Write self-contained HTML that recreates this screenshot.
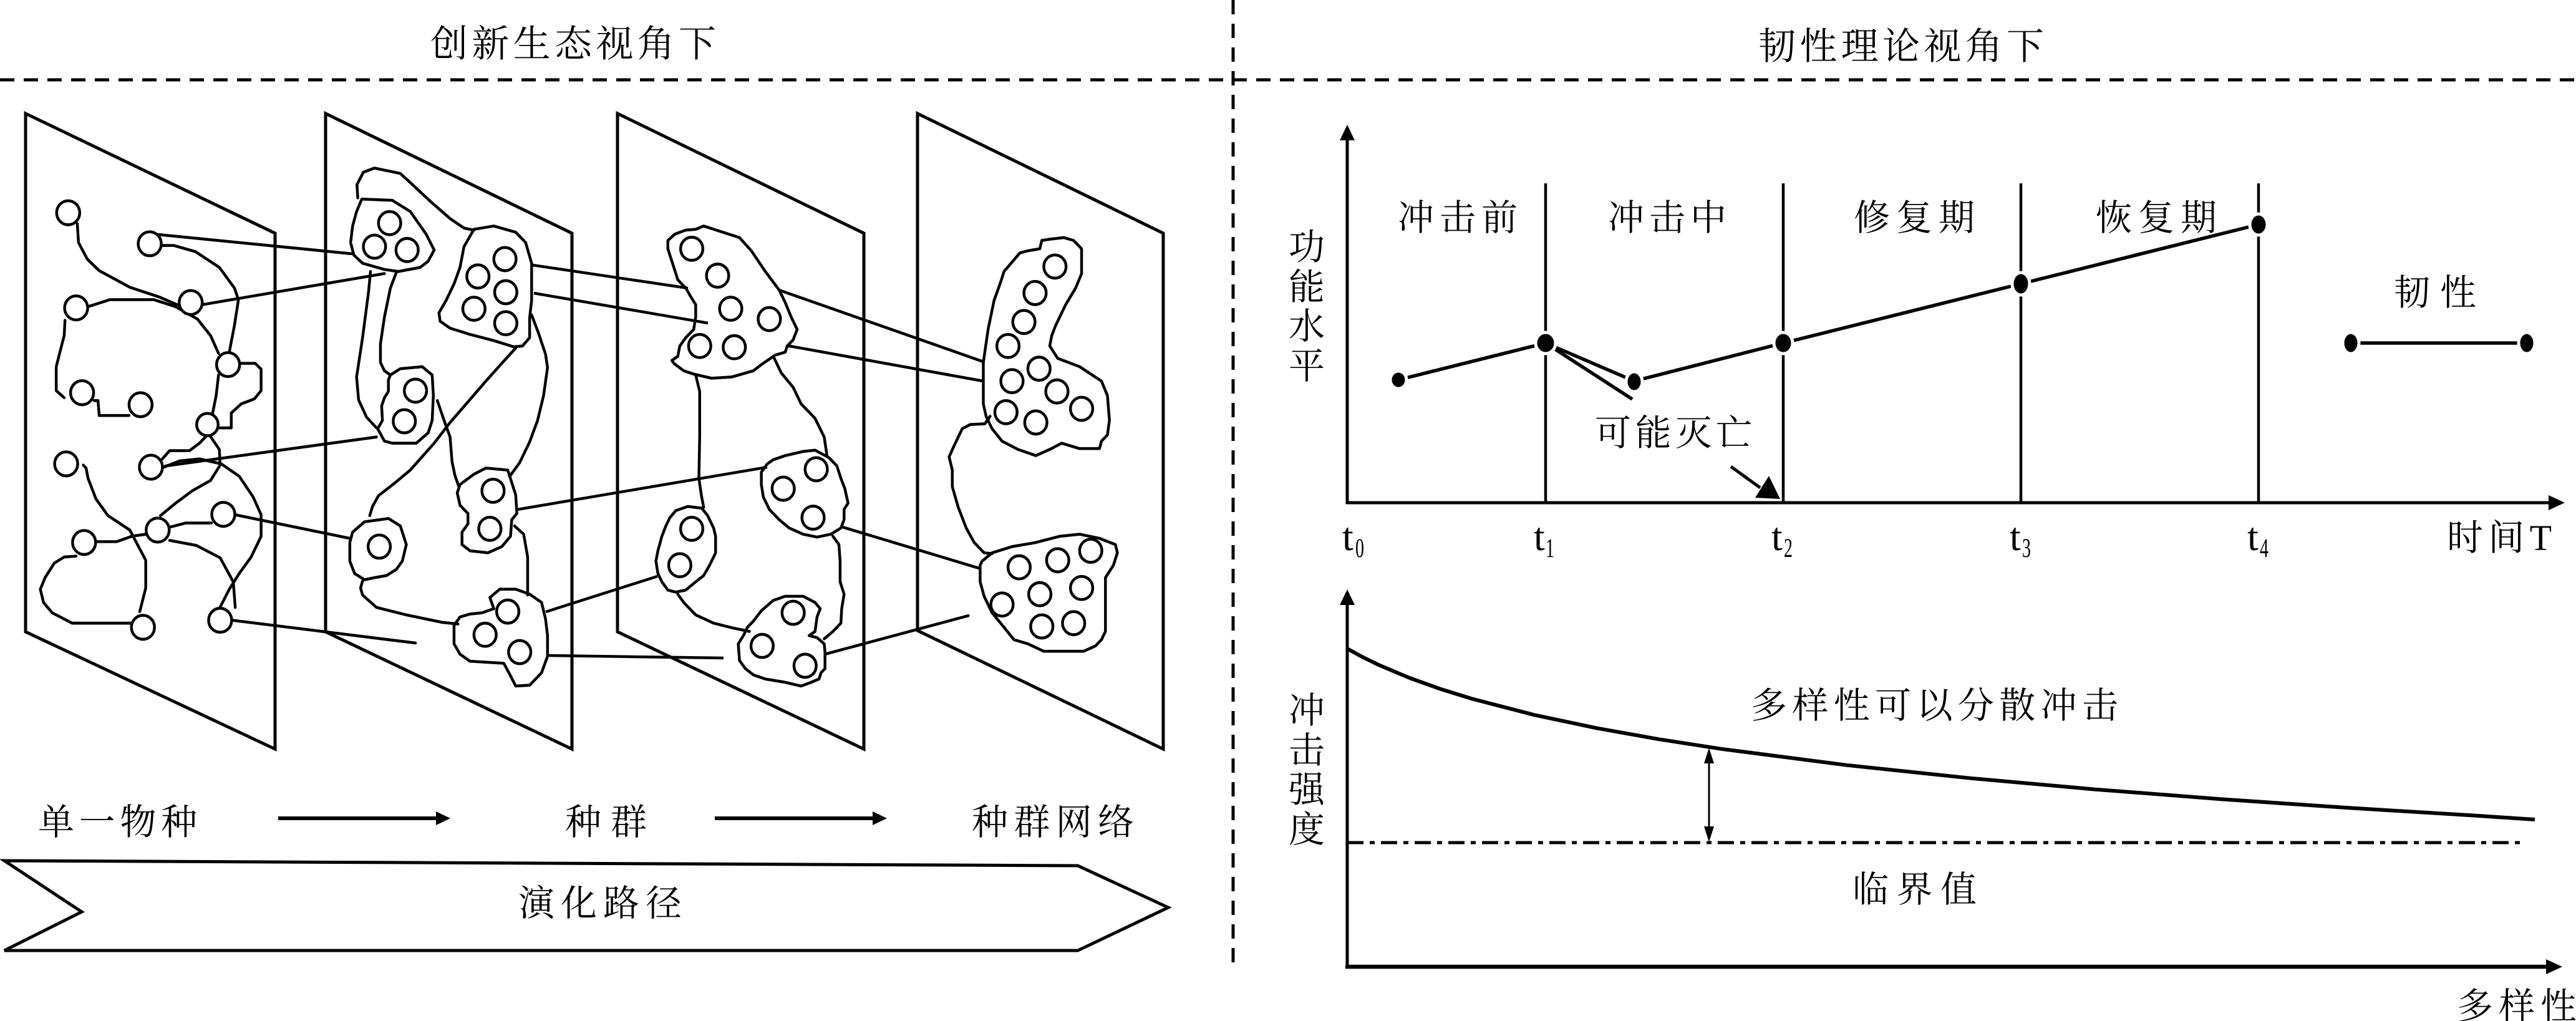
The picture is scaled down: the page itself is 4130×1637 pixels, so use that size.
<!DOCTYPE html>
<html><head><meta charset="utf-8">
<style>
html,body{margin:0;padding:0;background:#fff;}
svg{display:block;}
.cjk{font-family:"Liberation Serif","Noto Serif CJK SC","Noto Sans CJK SC",serif;fill:#000;}
.lat{font-family:"Liberation Serif",serif;fill:#000;}
</style></head>
<body>
<svg width="4130" height="1637" viewBox="0 0 4130 1637" xmlns="http://www.w3.org/2000/svg">
<rect x="0" y="0" width="4130" height="1637" fill="#fff"/>

<!-- dashed separators -->
<line x1="0" y1="128" x2="4130" y2="128" stroke="#000" stroke-width="5" stroke-dasharray="23 15"/>
<line x1="1977" y1="0" x2="1977" y2="1552" stroke="#000" stroke-width="5" stroke-dasharray="23 15"/>

<!-- titles -->
<text class="cjk" x="690" y="91" font-size="60" textLength="458" lengthAdjust="spacing">创新生态视角下</text>
<text class="cjk" x="2819" y="95" font-size="60" textLength="458" lengthAdjust="spacing">韧性理论视角下</text>

<!-- ================= LEFT PANEL ================= -->
<g fill="none" stroke="#000" stroke-width="5" stroke-linejoin="miter">
  <polygon points="41,182 441,374 441,1201 41,1013"/>
  <polygon points="522,182 917,374 917,1201 522,1013"/>
  <polygon points="990,182 1385,374 1385,1201 990,1013"/>
  <polygon points="1471,182 1865,374 1865,1201 1471,1011"/>
</g>

<!-- inter-plane straight lines (real coords) -->
<g fill="none" stroke="#000" stroke-width="4.5">
  <line x1="854" y1="425" x2="1103" y2="462"/>
  <line x1="856" y1="470" x2="1135" y2="518"/>
  <line x1="829" y1="817" x2="1230" y2="749"/>
  <line x1="875" y1="981" x2="1054" y2="924"/>
  <line x1="878" y1="1051" x2="1160" y2="1055"/>
</g>

<!-- Planes 1 & 2 in zoom-3 coordinates -->
<g transform="translate(20,170) scale(0.6378,0.6633)" fill="none" stroke="#000" stroke-width="7" stroke-linejoin="round" stroke-linecap="round">
  <path d="M163,285 L166,330 L188,370 L218,398 L295,438 L370,462 L418,482 L432,492"/>
  <path d="M190,485 L245,468 L355,468 L410,485 L465,515 L498,555 L518,598"/>
  <path d="M375,337 L405,337 L460,352 L520,390 L558,440 L568,468 L558,530 L545,595"/>
  <path d="M132,518 L130,555 L120,592 L110,630 L110,688 L130,705"/>
  <path d="M205,712 L215,712 L218,748 L293,748"/>
  <path d="M572,622 L610,622 L625,636 L625,688 L608,708 L575,720 L550,742 L550,778 L518,778"/>
  <path d="M518,650 L512,700 L502,748 L490,795 L470,815 L445,833 L395,833 L375,855"/>
  <path d="M380,873 L420,858 L470,853 L525,865 L570,895 L605,945 L625,988 L625,1040 L600,1090 L570,1130 L545,1168 L520,1215"/>
  <path d="M495,795 L520,830 L522,868 L498,905 L452,930 L410,960 L372,990"/>
  <path d="M178,868 L185,875 L190,900 L210,950 L240,990 L295,1025 L335,1098 L335,1165 L320,1222"/>
  <path d="M395,1018 L435,1008 L500,1008"/>
  <path d="M210,1053 L262,1053 L300,1040 L335,1035"/>
  <path d="M160,1088 L130,1090 L105,1105 L82,1140 L70,1168 L78,1200 L100,1225 L150,1250 L298,1250"/>
  <path d="M395,1050 L462,1062 L522,1092 L555,1150 L560,1212"/>
  <path d="M360,310 L852,357"/>
  <path d="M478,480 L935,405"/>
  <path d="M385,870 L915,800"/>
  <path d="M560,988 L848,1045"/>
  <path d="M552,1243 L1013,1298"/>

  <path d="M878,225 L955,228 L1000,255 L1040,310 L1060,348 L1045,375 L1025,390 L970,400 L935,395 L880,380 L858,360 L850,330 L855,290 L865,255 Z"/>
  <path d="M868,222 L866,190 L882,160 L910,150 L975,163 L1000,185 L1050,230 L1100,272 L1135,295 L1160,300"/>
  <path d="M900,400 L895,450 L880,560 L865,655 L870,710 L890,752 L915,778"/>
  <path d="M965,402 L950,440 L935,510 L925,575 L925,620 L935,640 L950,650"/>
  <path d="M1160,298 L1210,290 L1265,305 L1290,330 L1305,380 L1305,470 L1300,512 L1300,560 L1282,580 L1260,582 L1210,567 L1150,552 L1100,537 L1075,520 L1072,500 L1090,470 L1110,430 L1125,390 L1135,340 Z"/>
  <path d="M1265,585 L1230,622 L1190,665 L1145,715 L1100,765 L1060,815 L1000,880 L960,912 L920,942 L905,968 L898,990"/>
  <path d="M1305,505 L1322,548 L1340,600 L1345,632 L1335,700 L1320,760 L1300,812 L1275,862 L1250,895"/>
  <path d="M950,650 L975,635 L1030,630 L1055,650 L1058,700 L1055,760 L1045,790 L1015,815 L955,815 L935,810 L918,780 L930,760 L928,725 L935,705 L945,690 L945,662 Z"/>
  <path d="M1068,712 L1085,760 L1100,800 L1105,860 L1112,892 L1122,920"/>
  <path d="M1125,915 L1160,890 L1190,875 L1245,880 L1265,940 L1268,985 L1255,1000 L1252,1040 L1230,1065 L1195,1080 L1150,1075 L1130,1060 L1130,1030 L1145,1010 L1145,985 L1125,965 L1118,935 Z"/>
  <path d="M1262,1015 L1285,1035 L1295,1090 L1295,1182"/>
  <path d="M855,1030 L885,1005 L945,997 L975,1015 L990,1060 L980,1100 L965,1120 L940,1135 L910,1140 L885,1145 L860,1130 L848,1100 L848,1055 Z"/>
  <path d="M880,1148 L875,1165 L880,1182 L915,1212 L990,1230 L1080,1248 L1120,1252"/>
  <path d="M1200,1188 L1225,1168 L1265,1168 L1300,1180 L1330,1200 L1340,1240 L1345,1280 L1345,1330 L1330,1370 L1300,1400 L1265,1402 L1248,1370 L1235,1347 L1150,1342 L1125,1325 L1110,1300 L1110,1255 L1125,1235 L1150,1228 L1180,1225 L1210,1215 Z"/>
</g>
<g transform="translate(20,170) scale(0.6378,0.6633)" fill="#fff" stroke="#000" stroke-width="7">
  <circle cx="140" cy="258" r="29"/>
  <circle cx="345" cy="333" r="29"/>
  <circle cx="448" cy="475" r="29"/>
  <circle cx="160" cy="488" r="29"/>
  <circle cx="542" cy="625" r="29"/>
  <circle cx="175" cy="693" r="29"/>
  <circle cx="322" cy="722" r="29"/>
  <circle cx="490" cy="770" r="27"/>
  <circle cx="135" cy="865" r="29"/>
  <circle cx="348" cy="873" r="29"/>
  <circle cx="530" cy="987" r="29"/>
  <circle cx="365" cy="1025" r="29"/>
  <circle cx="180" cy="1055" r="29"/>
  <circle cx="328" cy="1260" r="29"/>
  <circle cx="522" cy="1243" r="29"/>
  <circle cx="948" cy="283" r="28"/>
  <circle cx="910" cy="340" r="28"/>
  <circle cx="992" cy="348" r="28"/>
  <circle cx="1238" cy="370" r="28"/>
  <circle cx="1170" cy="412" r="28"/>
  <circle cx="1240" cy="450" r="28"/>
  <circle cx="1160" cy="490" r="28"/>
  <circle cx="1240" cy="525" r="28"/>
  <circle cx="1013" cy="688" r="28"/>
  <circle cx="985" cy="762" r="28"/>
  <circle cx="1208" cy="930" r="28"/>
  <circle cx="1200" cy="1022" r="28"/>
  <circle cx="922" cy="1065" r="28"/>
  <circle cx="1245" cy="1222" r="28"/>
  <circle cx="1188" cy="1278" r="28"/>
  <circle cx="1275" cy="1320" r="28"/>
</g>

<!-- Planes 3 & 4 in zoom-4 coordinates -->
<g transform="translate(940,170) scale(0.6378,0.6633)" fill="none" stroke="#000" stroke-width="7" stroke-linejoin="round" stroke-linecap="round">
  <path d="M205,325 L222,310 L250,300 L275,298 L295,290 L385,318 L415,350 L450,400 L485,445 L500,475 L515,510 L530,540 L520,565 L505,580 L500,595 L475,602 L440,625 L420,640 L365,655 L315,658 L270,648 L245,640 L220,622 L215,615 L230,605 L235,580 L250,560 L270,540 L275,510 L275,480 L262,460 L250,440 L230,420 L220,390 L215,375 L205,345 Z"/>
  <path d="M275,650 L285,690 L285,800 L283,900 L290,945 L295,970"/>
  <path d="M470,605 L490,645 L520,680 L540,720 L575,755 L598,800 L605,845"/>
  <path d="M455,865 L470,855 L500,845 L545,835 L575,832 L610,850 L630,870 L640,900 L650,925 L658,960 L648,975 L648,1000 L640,1020 L615,1035 L580,1042 L545,1035 L510,1020 L485,1000 L460,975 L445,945 L440,915 L440,885 Z"/>
  <path d="M620,1040 L635,1060 L638,1100 L638,1150 L648,1180 L642,1215 L640,1250 L620,1270 L598,1288"/>
  <path d="M210,995 L225,978 L255,968 L290,972 L305,990 L320,1020 L325,1040 L325,1080 L310,1110 L295,1135 L275,1150 L250,1170 L225,1175 L205,1170 L190,1150 L180,1130 L175,1100 L180,1075 L190,1040 L200,1015 Z"/>
  <path d="M230,1180 L245,1200 L275,1230 L320,1250 L370,1262 L410,1270"/>
  <path d="M440,1220 L470,1195 L500,1185 L545,1185 L575,1200 L588,1215 L580,1235 L575,1270 L560,1280 L580,1285 L598,1300 L600,1320 L600,1360 L590,1370 L585,1385 L560,1395 L540,1402 L500,1393 L450,1385 L420,1375 L400,1360 L385,1340 L382,1300 L395,1280 L405,1260 L420,1245 Z"/>
  <path d="M485,445 L998,618"/>
  <path d="M510,580 L998,665"/>
  <path d="M645,1018 L990,1118"/>
  <path d="M600,1325 L960,1232"/>
  <path d="M1050,400 L1090,355 L1110,350 L1140,345 L1145,325 L1165,322 L1200,318 L1225,325 L1245,345 L1245,405 L1230,440 L1205,480 L1180,530 L1170,555 L1165,580 L1185,610 L1240,630 L1295,665 L1310,700 L1315,760 L1310,795 L1295,810 L1290,828 L1240,828 L1195,815 L1165,830 L1130,845 L1085,830 L1045,810 L1020,780 L1005,750 L998,720 L998,620 L1010,540 L1025,470 L1040,430 Z"/>
  <path d="M1015,750 L1002,768 L965,770 L945,780 L925,820 L912,848 L920,880 L920,920 L935,970 L955,1020 L975,1055 L1000,1080 L1020,1082"/>
  <path d="M995,1100 L1020,1080 L1070,1065 L1130,1055 L1190,1040 L1240,1035 L1290,1045 L1330,1060 L1335,1080 L1325,1110 L1315,1125 L1305,1140 L1305,1270 L1295,1290 L1280,1305 L1250,1318 L1150,1318 L1110,1300 L1075,1290 L1050,1260 L1020,1225 L1000,1185 L990,1150 L990,1110 Z"/>
</g>
<g transform="translate(940,170) scale(0.6378,0.6633)" fill="#fff" stroke="#000" stroke-width="7">
  <circle cx="265" cy="345" r="28"/>
  <circle cx="330" cy="410" r="28"/>
  <circle cx="363" cy="490" r="28"/>
  <circle cx="460" cy="515" r="28"/>
  <circle cx="285" cy="580" r="28"/>
  <circle cx="372" cy="583" r="28"/>
  <circle cx="578" cy="878" r="28"/>
  <circle cx="495" cy="925" r="28"/>
  <circle cx="570" cy="995" r="28"/>
  <circle cx="265" cy="1022" r="28"/>
  <circle cx="235" cy="1110" r="28"/>
  <circle cx="520" cy="1225" r="28"/>
  <circle cx="442" cy="1305" r="28"/>
  <circle cx="550" cy="1353" r="28"/>
  <circle cx="1178" cy="388" r="28"/>
  <circle cx="1128" cy="452" r="28"/>
  <circle cx="1100" cy="522" r="28"/>
  <circle cx="1060" cy="580" r="28"/>
  <circle cx="1138" cy="635" r="28"/>
  <circle cx="1070" cy="665" r="28"/>
  <circle cx="1183" cy="690" r="28"/>
  <circle cx="1245" cy="732" r="28"/>
  <circle cx="1055" cy="740" r="28"/>
  <circle cx="1130" cy="765" r="28"/>
  <circle cx="1088" cy="1115" r="28"/>
  <circle cx="1185" cy="1098" r="28"/>
  <circle cx="1268" cy="1075" r="28"/>
  <circle cx="1245" cy="1165" r="28"/>
  <circle cx="1140" cy="1180" r="28"/>
  <circle cx="1045" cy="1205" r="28"/>
  <circle cx="1145" cy="1258" r="28"/>
  <circle cx="1225" cy="1250" r="28"/>
</g>

<!-- bottom labels & arrows -->
<text class="cjk" x="61" y="1338" font-size="58" textLength="255" lengthAdjust="spacing">单一物种</text>
<text class="cjk" x="906" y="1338" font-size="58" textLength="131" lengthAdjust="spacing">种群</text>
<text class="cjk" x="1558" y="1338" font-size="58" textLength="260" lengthAdjust="spacing">种群网络</text>
<line x1="446" y1="1312" x2="702" y2="1312" stroke="#000" stroke-width="6"/>
<polygon points="722,1312 699,1301 699,1323" fill="#000"/>
<line x1="1146" y1="1312" x2="1402" y2="1312" stroke="#000" stroke-width="6"/>
<polygon points="1422,1312 1399,1301 1399,1323" fill="#000"/>

<polygon points="7,1380 1728,1388 1873,1455 1728,1524 7,1524 131,1462" fill="none" stroke="#000" stroke-width="5" stroke-linejoin="miter"/>
<text class="cjk" x="831" y="1468" font-size="58" textLength="262" lengthAdjust="spacing">演化路径</text>

<!-- ================= RIGHT TOP CHART ================= -->
<g stroke="#000" fill="none">
  <line x1="2160" y1="218" x2="2160" y2="808" stroke-width="5"/>
  <line x1="2158" y1="806" x2="4090" y2="806" stroke-width="5"/>
  <line x1="2478" y1="294" x2="2478" y2="806" stroke-width="4.5"/>
  <line x1="2859" y1="294" x2="2859" y2="806" stroke-width="4.5"/>
  <line x1="3240" y1="294" x2="3240" y2="806" stroke-width="4.5"/>
  <line x1="3621" y1="294" x2="3621" y2="806" stroke-width="4.5"/>
</g>
<polygon points="2160,200 2148,225 2172,225" fill="#000"/>
<polygon points="4112,806 4086,794 4086,818" fill="#000"/>

<g stroke="#000" stroke-width="5.5" fill="none" stroke-linecap="butt">
  <line x1="2242" y1="609" x2="2478" y2="550"/>
  <line x1="2478" y1="550" x2="2620" y2="611"/>
  <line x1="2478" y1="550" x2="2617" y2="640"/>
  <line x1="2620" y1="611" x2="2859" y2="550"/>
  <line x1="2859" y1="550" x2="3240" y2="455"/>
  <line x1="3240" y1="455" x2="3621" y2="360"/>
  <line x1="3769" y1="550" x2="4051" y2="550"/>
</g>
<g fill="#000" stroke="#fff" stroke-width="5">
  <ellipse cx="2242" cy="609" rx="13" ry="14"/>
  <ellipse cx="2478" cy="550" rx="16" ry="17"/>
  <ellipse cx="2620" cy="612" rx="13" ry="16"/>
  <ellipse cx="2859" cy="550" rx="15" ry="17"/>
  <ellipse cx="3240" cy="455" rx="14" ry="18"/>
  <ellipse cx="3621" cy="360" rx="14" ry="17"/>
  <ellipse cx="3769" cy="550" rx="13" ry="17"/>
  <ellipse cx="4051" cy="550" rx="13" ry="17"/>
</g>

<!-- 可能灭亡 arrow -->
<line x1="2775" y1="748" x2="2822" y2="782" stroke="#000" stroke-width="5"/>
<polygon points="2836,763 2814,798 2854,800" fill="#000"/>

<text class="cjk" x="2241" y="369" font-size="58" textLength="192" lengthAdjust="spacing">冲击前</text>
<text class="cjk" x="2578" y="369" font-size="58" textLength="190" lengthAdjust="spacing">冲击中</text>
<text class="cjk" x="2972" y="369" font-size="58" textLength="194" lengthAdjust="spacing">修复期</text>
<text class="cjk" x="3360" y="369" font-size="58" textLength="194" lengthAdjust="spacing">恢复期</text>
<text class="cjk" x="3838" y="489" font-size="58" textLength="132" lengthAdjust="spacing">韧性</text>
<text class="cjk" x="2557" y="714" font-size="58" textLength="252" lengthAdjust="spacing">可能灭亡</text>
<text class="cjk" x="3923" y="882" font-size="58" textLength="168" lengthAdjust="spacing">时间T</text>

<text class="cjk" x="2066" y="416" font-size="58">功</text>
<text class="cjk" x="2066" y="480" font-size="58">能</text>
<text class="cjk" x="2066" y="543" font-size="58">水</text>
<text class="cjk" x="2066" y="607" font-size="58">平</text>

<g class="lat">
  <text x="2152" y="882" font-size="64">t</text>
  <text transform="translate(2173,893) scale(0.65,1)" font-size="43">0</text>
  <text x="2459" y="882" font-size="64">t</text>
  <text transform="translate(2478,893) scale(0.65,1)" font-size="43">1</text>
  <text x="2840" y="882" font-size="64">t</text>
  <text transform="translate(2860,893) scale(0.65,1)" font-size="43">2</text>
  <text x="3222" y="882" font-size="64">t</text>
  <text transform="translate(3242,893) scale(0.65,1)" font-size="43">3</text>
  <text x="3603" y="882" font-size="64">t</text>
  <text transform="translate(3623,893) scale(0.65,1)" font-size="43">4</text>
</g>

<!-- ================= RIGHT BOTTOM CHART ================= -->
<g stroke="#000" fill="none">
  <line x1="2160" y1="962" x2="2160" y2="1553" stroke-width="5"/>
  <line x1="2157" y1="1550" x2="4088" y2="1550" stroke-width="6.5"/>
</g>
<polygon points="2160,945 2148,970 2172,970" fill="#000"/>
<polygon points="4108,1550 4082,1538 4082,1562" fill="#000"/>

<path d="M2160,1040 L2185,1053.7 L2210,1065.9 L2260,1087 L2310,1104.9 L2360,1120.4 L2460,1146.3 L2560,1167.4 L2660,1185.3 L2760,1200.8 L2960,1226.7 L3160,1247.8 L3360,1265.7 L3560,1281.2 L3760,1294.9 L3960,1307.1 L4064,1314" fill="none" stroke="#000" stroke-width="6" stroke-linejoin="round"/>

<line x1="2160" y1="1351" x2="4042" y2="1351" stroke="#000" stroke-width="5" stroke-dasharray="26 10 8 10"/>

<line x1="2740" y1="1220" x2="2740" y2="1330" stroke="#000" stroke-width="3"/>
<polygon points="2740,1199 2732,1224 2748,1224" fill="#000"/>
<polygon points="2740,1350 2732,1325 2748,1325" fill="#000"/>

<text class="cjk" x="2807" y="1151" font-size="58" textLength="589" lengthAdjust="spacing">多样性可以分散冲击</text>
<text class="cjk" x="2970" y="1446" font-size="58" textLength="199" lengthAdjust="spacing">临界值</text>
<text class="cjk" x="3939" y="1633" font-size="58" textLength="192" lengthAdjust="spacing">多样性</text>

<text class="cjk" x="2066" y="1159" font-size="58">冲</text>
<text class="cjk" x="2066" y="1223" font-size="58">击</text>
<text class="cjk" x="2066" y="1286" font-size="58">强</text>
<text class="cjk" x="2066" y="1350" font-size="58">度</text>
</svg>
</body></html>
